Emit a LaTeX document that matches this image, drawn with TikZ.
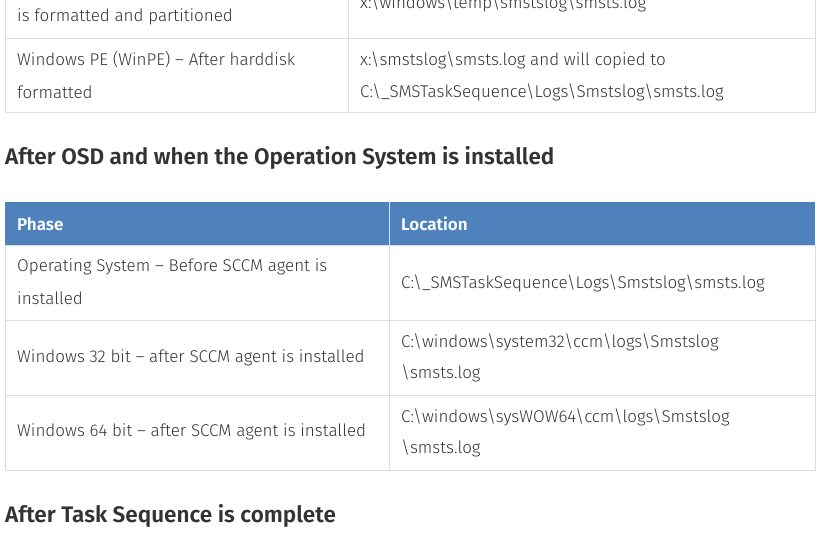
\documentclass[tikz,border=0pt]{standalone}
\usepackage{fontspec}
\setmainfont{Fira Sans Light}[BoldFont={Fira Sans SemiBold}]
\definecolor{txt}{HTML}{333333}
\definecolor{grid}{HTML}{DDDDDD}
\definecolor{hdr}{HTML}{4F81BD}
\begin{document}
\begin{tikzpicture}[x=1pt,y=-1pt,
  cell/.style={anchor=west,inner sep=0pt,text=txt,font=\fontsize{17}{20}\selectfont},
  hcell/.style={anchor=west,inner sep=0pt,text=white,font=\bfseries\fontsize{17}{20}\selectfont},
  head/.style={anchor=west,inner sep=0pt,text=txt,font=\bfseries\fontsize{22.5}{26}\selectfont},
  gl/.style={draw=grid,line width=1pt}]
\useasboundingbox (0,0) rectangle (820,550);
\clip (0,0) rectangle (820,550);
% top table
\draw[gl] (5,-20) -- (5,112) -- (815,112) -- (815,-20);
\draw[gl] (5,38) -- (815,38);
\draw[gl] (348,-20) -- (348,112);
\node[cell] (a1) at (17,17) {is formatted and partitioned};
\node[cell] (a2) at (360,3) {x:\textbackslash windows\textbackslash temp\textbackslash smstslog\textbackslash smsts.log};
\node[cell] (b1) at (17,60) {Windows PE (WinPE) – After harddisk};
\node[cell] (b2) at (17,92) {formatted};
\node[cell] (b3) at (360,60) {x:\textbackslash smstslog\textbackslash smsts.log and will copied to};
\node[cell] (b4) at (360,92) {C:\textbackslash\_SMSTaskSequence\textbackslash Logs\textbackslash Smstslog\textbackslash smsts.log};
% heading
\node[head] (h1) at (5,158) {After OSD and when the Operation System is installed};
% table 2
\fill[hdr] (5,202) rectangle (815,245);
\draw[gl] (5,245) rectangle (815,470);
\draw[gl] (5,320) -- (815,320);
\draw[gl] (5,395) -- (815,395);
\draw[gl] (389,245) -- (389,470);
\draw[draw=white!80!hdr,line width=1pt] (389,202) -- (389,245);
\node[hcell] (p) at (17,224) {Phase};
\node[hcell] (l) at (401,224) {Location};
\node[cell] (r1a) at (17,267) {Operating System – Before SCCM agent is};
\node[cell] (r1b) at (17,298) {installed};
\node[cell] (r1c) at (401,283) {C:\textbackslash\_SMSTaskSequence\textbackslash Logs\textbackslash Smstslog\textbackslash smsts.log};
\node[cell] (r2a) at (17,358) {Windows 32 bit – after SCCM agent is installed};
\node[cell] (r2b) at (401,342) {C:\textbackslash windows\textbackslash system32\textbackslash ccm\textbackslash logs\textbackslash Smstslog};
\node[cell] (r2c) at (401,373) {\textbackslash smsts.log};
\node[cell] (r3a) at (17,432) {Windows 64 bit – after SCCM agent is installed};
\node[cell] (r3b) at (401,417) {C:\textbackslash windows\textbackslash sysWOW64\textbackslash ccm\textbackslash logs\textbackslash Smstslog};
\node[cell] (r3c) at (401,448) {\textbackslash smsts.log};
\node[head] (h2) at (5,516) {After Task Sequence is complete};
\end{tikzpicture}
\end{document}
